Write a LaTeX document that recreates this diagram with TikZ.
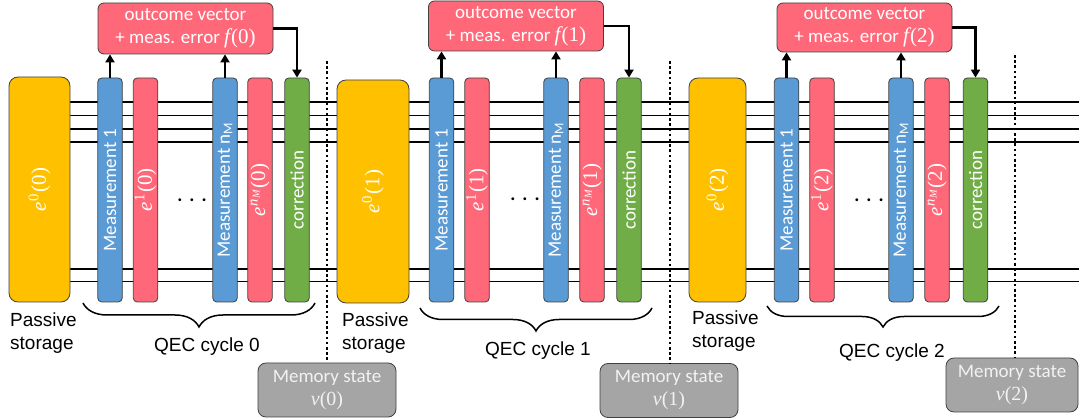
\documentclass[tikz,border=0pt]{standalone}
\usepackage{fontspec}
\setmainfont{Carlito}
\newfontfamily\arialf{Liberation Sans}
\newfontfamily\serf{Liberation Serif}
\usetikzlibrary{arrows.meta,decorations.pathreplacing,backgrounds}
\definecolor{cyel}{HTML}{FFC000}
\definecolor{cblue}{HTML}{5B9BD5}
\definecolor{cred}{HTML}{FF6879}
\definecolor{cgreen}{HTML}{70AD47}
\definecolor{cgray}{HTML}{A5A5A5}
\definecolor{cborder}{HTML}{404040}
\definecolor{clight}{HTML}{F2F2F2}
\newcommand\ee[2]{{\serf\fontsize{21}{23}\selectfont\itshape e\kern1pt\textsuperscript{\upshape #1}\kern1pt\upshape(#2)}}
\newcommand\nM{{\itshape n\textsubscript{\itshape M}}}
\newcommand\ff[1]{{\serf\fontsize{21}{23}\selectfont\itshape f\kern1pt\upshape(#1)}}
\newcommand\vv[1]{{\serf\fontsize{20}{23}\selectfont\itshape v\upshape(#1)}}
\begin{document}
\begin{tikzpicture}[x=1pt,y=-1pt,
 base/.style={font=\fontsize{19}{23}\selectfont},
 box/.style={base, draw=cborder, line width=0.8pt, inner sep=0pt, text=white},
 colbox/.style={box, rotate=90, rounded corners=4pt, minimum width=224pt, minimum height=24.5pt},
 meas/.style={colbox, fill=cblue},
 errbox/.style={colbox, fill=cred},
 corrbox/.style={colbox, fill=cgreen},
 passive/.style={box, rotate=90, rounded corners=9pt, fill=cyel},
 outbox/.style={box, rounded corners=6pt, fill=cred, align=center, minimum width=175pt},
 membox/.style={box, rounded corners=8pt, fill=cgray, text=clight, align=center, minimum height=54pt},
 wire/.style={line width=1.6pt},
 arr/.style={line width=2.3pt, -{Triangle[length=8pt,width=9pt]}},
 dotline/.style={line width=2.6pt, dash pattern=on 2.6pt off 2.6pt},
 brc/.style={line width=1.5pt, decorate, decoration={brace, mirror, amplitude=#1}},
 lbl/.style={font=\arialf\fontsize{19}{23}\selectfont},
 plbl/.style={lbl, align=left, anchor=west, inner sep=0pt},
 dotsty/.style={font=\bfseries\fontsize{19}{23}\selectfont},
 ]
\useasboundingbox (0,0) rectangle (1079,419);

% cycle 0
\node[passive, minimum width=225pt, minimum height=61pt] (s0) at (39.5,189.5) {\ee{0}{0}};
\node[meas] (m0a) at (110,190) {Measurement 1};
\node[errbox] (e0a) at (145.5,190) {\ee{1}{0}};
\node[dotsty] (dots0) at (192,200) {.\kern7pt.\kern7pt.};
\node[meas] (m0b) at (225,190) {Measurement n\textsubscript{M}};
\node[errbox] (e0b) at (260,190) {\ee{\nM}{0}};
\node[corrbox] (c0) at (297,190) {correction};
\node[outbox, minimum height=51pt] (o0) at (185.5,28.5) {outcome vector\\+ meas. error \ff{0}};
\node[membox, minimum width=138pt] (v0) at (327,390) {Memory state\\\vv{0}};
\node[plbl] (p0) at (10,333) {Passive\\storage};
\node[lbl] (q0) at (207,347) {QEC cycle 0};

% cycle 1
\node[passive, minimum width=223pt, minimum height=72pt] (s1) at (373,191.5) {\ee{0}{1}};
\node[meas] (m1a) at (441.5,190) {Measurement 1};
\node[errbox] (e1a) at (477,190) {\ee{1}{1}};
\node[dotsty] (dots1) at (525,199) {.\kern7pt.\kern7pt.};
\node[meas] (m1b) at (556,190) {Measurement n\textsubscript{M}};
\node[errbox] (e1b) at (592,190) {\ee{\nM}{1}};
\node[corrbox] (c1) at (629,190) {correction};
\node[outbox, minimum height=50pt] (o1) at (516,26) {outcome vector\\+ meas. error \ff{1}};
\node[membox, minimum width=138pt] (v1) at (669,390.5) {Memory state\\\vv{1}};
\node[plbl] (p1) at (342,333) {Passive\\storage};
\node[lbl] (q1) at (538,351) {QEC cycle 1};

% cycle 2
\node[passive, minimum width=224pt, minimum height=57pt] (s2) at (717.5,190) {\ee{0}{2}};
\node[meas] (m2a) at (786.5,190) {Measurement 1};
\node[errbox] (e2a) at (822,190) {\ee{1}{2}};
\node[dotsty] (dots2) at (869,200) {.\kern7pt.\kern7pt.};
\node[meas] (m2b) at (901,190) {Measurement n\textsubscript{M}};
\node[errbox] (e2b) at (937,190) {\ee{\nM}{2}};
\node[corrbox] (c2) at (975.5,190) {correction};
\node[outbox, minimum height=49pt] (o2) at (864.5,27.5) {outcome vector\\+ meas. error \ff{2}};
\node[membox, minimum width=132pt] (v2) at (1012,385) {Memory state\\\vv{2}};
\node[plbl] (p2) at (692,331.5) {Passive\\storage};
\node[lbl] (q2) at (892,353) {QEC cycle 2};

% wires
\begin{scope}[on background layer]
\foreach \yy in {102,115.5,129,142,269,281.5}
  \draw[wire] (s0.center |- 0,\yy) -- (1079,\yy);
\end{scope}

% arrows
\foreach \i in {0,1,2}{
  \draw[arr] (m\i a.east) -- (m\i a.east |- o\i.south);
  \draw[arr] (m\i b.east) -- (m\i b.east |- o\i.south);
  \draw[arr] (o\i.east) -| (c\i.east);
}

% dotted separators
\coordinate (d0) at (327,61);
\coordinate (d1) at (670,61);
\coordinate (d2) at (1015,55);
\draw[dotline] (d0) -- (d0 |- v0.north);
\draw[dotline] (d1) -- (d1 |- v1.north);
\draw[dotline] (d2) -- (d2 |- v2.north);

% braces
\coordinate (b0l) at (83,303);  \coordinate (b0r) at (315,303);
\coordinate (b1l) at (420,308); \coordinate (b1r) at (652,308);
\coordinate (b2l) at (767,306); \coordinate (b2r) at (999,306);
\draw[brc=24pt] (b0l) -- (b0r);
\draw[brc=23pt] (b1l) -- (b1r);
\draw[brc=21pt] (b2l) -- (b2r);
\end{tikzpicture}
\end{document}
